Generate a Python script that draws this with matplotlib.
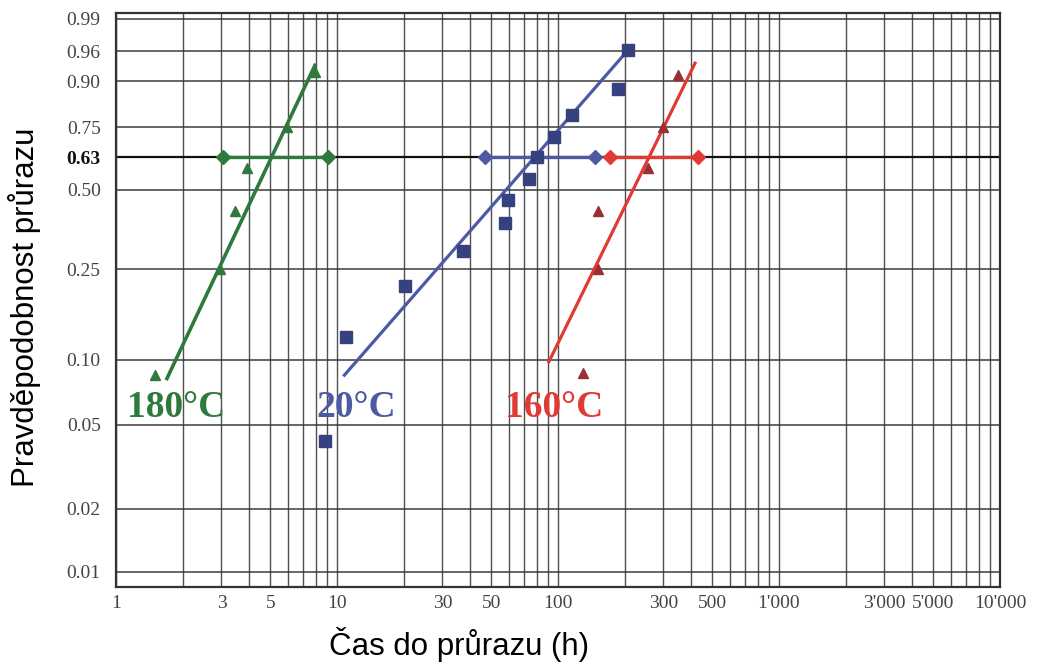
"""Weibull probability plot of breakdown times at three temperatures."""

import numpy as np
import matplotlib

matplotlib.use("Agg")
import matplotlib.pyplot as plt

# Measured breakdown times (h) and their plotting positions (cumulative probability)
t180_time = [1.5, 2.95, 3.45, 3.9, 5.95, 7.95]
t180_prob = [0.085, 0.25, 0.42, 0.585, 0.75, 0.922]

t20_time = [8.8, 11.0, 20.3, 37.2, 57.6, 59.4, 73.9, 80.4, 95.9, 116.0, 187.0, 207.0]
t20_prob = [0.042, 0.127, 0.212, 0.296, 0.38, 0.461, 0.541, 0.63, 0.711, 0.795, 0.879, 0.961]

t160_time = [130.0, 152.0, 152.0, 255.0, 299.0, 349.0]
t160_prob = [0.087, 0.25, 0.421, 0.585, 0.75, 0.915]

# Fitted Weibull lines (end points, straight on Weibull paper)
fit180_time = [1.70, 7.95]
fit180_prob = [0.082, 0.936]
fit20_time = [10.8, 207.0]
fit20_prob = [0.085, 0.961]
fit160_time = [91.0, 417.0]
fit160_prob = [0.098, 0.94]

# Confidence intervals of the characteristic life (at F = 0.63)
ci180 = [3.05, 9.1]
ci20 = [46.7, 147.0]
ci160 = [172.0, 430.0]
ci_level = 0.63

prob_ticks = [0.01, 0.02, 0.05, 0.10, 0.25, 0.50, 0.63, 0.75, 0.90, 0.96, 0.99]
prob_labels = ["0.01", "0.02", "0.05", "0.10", "0.25", "0.50", "0.63", "0.75", "0.90", "0.96", "0.99"]
time_labels = {1: "1", 3: "3", 5: "5", 10: "10", 30: "30", 50: "50", 100: "100",
               300: "300", 500: "500", 1000: "1'000", 3000: "3'000",
               5000: "5'000", 10000: "10'000"}

GREEN = "#2e7a3c"
BLUE = "#4d5aa3"
BLUE_DARK = "#36417f"
RED = "#e03a35"
RED_DARK = "#9c2f33"


def weibull_fwd(p):
    p = np.clip(np.asarray(p, dtype=float), 1e-12, 1 - 1e-12)
    return np.log(-np.log(1 - p))


def weibull_inv(w):
    return 1 - np.exp(-np.exp(np.asarray(w, dtype=float)))


fig = plt.figure(figsize=(10.46, 6.63), dpi=100)
ax = fig.add_axes([0.1109, 0.1146, 0.8451, 0.8658])
ax.set_xscale("log")
ax.set_yscale("function", functions=(weibull_fwd, weibull_inv))
ax.set_xlim(1, 10000)
ax.set_ylim(0.00846, 0.9926)

# Probability-paper grid
grid_x = [m * 10 ** d for d in range(4) for m in range(1, 10)] + [10000]
for gx in grid_x:
    ax.axvline(gx, color="#505050", lw=1.0, zorder=1)
for gp in prob_ticks:
    if gp == ci_level:
        ax.axhline(gp, color="#111111", lw=1.6, zorder=1)
    else:
        ax.axhline(gp, color="#3c3c3c", lw=1.1, zorder=1)

ax.set_xticks(list(time_labels.keys()))
ax.set_xticklabels(list(time_labels.values()))
ax.xaxis.set_minor_locator(matplotlib.ticker.NullLocator())
ax.set_yticks(prob_ticks)
ax.set_yticklabels(prob_labels)
ax.yaxis.set_minor_locator(matplotlib.ticker.NullLocator())
ax.tick_params(axis="both", length=0, labelsize=14, labelcolor="#444444")
ax.tick_params(axis="y", pad=11)
ax.tick_params(axis="x", pad=6)
for lab in ax.get_yticklabels():
    lab.set_family("Liberation Serif")
    if lab.get_text() == "0.63":
        lab.set_fontweight("bold")
        lab.set_color("#111111")
for lab in ax.get_xticklabels():
    lab.set_family("Liberation Serif")
for sp in ax.spines.values():
    sp.set_color("#333333")
    sp.set_linewidth(1.6)

# Fitted lines
ax.plot(fit180_time, fit180_prob, color=GREEN, lw=2.6, zorder=3)
ax.plot(fit20_time, fit20_prob, color=BLUE, lw=2.3, zorder=3)
ax.plot(fit160_time, fit160_prob, color=RED, lw=2.3, zorder=3)

# Characteristic-life intervals
ax.plot(ci180, [ci_level] * 2, color=GREEN, lw=2.4, marker="D", ms=7, zorder=4)
ax.plot(ci20, [ci_level] * 2, color=BLUE, lw=2.4, marker="D", ms=7, zorder=4)
ax.plot(ci160, [ci_level] * 2, color=RED, lw=2.4, marker="D", ms=7, zorder=4)

# Measured points
ax.plot(t180_time, t180_prob, ls="none", marker="^", ms=7, color=GREEN, zorder=5)
ax.plot(t20_time, t20_prob, ls="none", marker="s", ms=8, color=BLUE_DARK, zorder=5)
ax.plot(t160_time, t160_prob, ls="none", marker="^", ms=7, color=RED_DARK, zorder=5)

label_kw = dict(fontsize=27, fontweight="bold", family="Liberation Serif",
                ha="center", va="center", zorder=6)
ax.text(1.88, 0.0604, "180°C", color=GREEN, **label_kw)
ax.text(12.2, 0.0604, "20°C", color=BLUE, **label_kw)
ax.text(96.0, 0.0604, "160°C", color=RED, **label_kw)

fig.text(459 / 1046, 1 - 645 / 663, "Čas do průrazu (h)", fontsize=22.5,
         family="Liberation Sans", ha="center", va="center")
fig.text(25 / 1046, 1 - 307 / 663, "Pravděpodobnost průrazu", fontsize=22.5,
         family="Liberation Sans", rotation=90, ha="center", va="center")

fig.savefig("out.png", dpi=100)
